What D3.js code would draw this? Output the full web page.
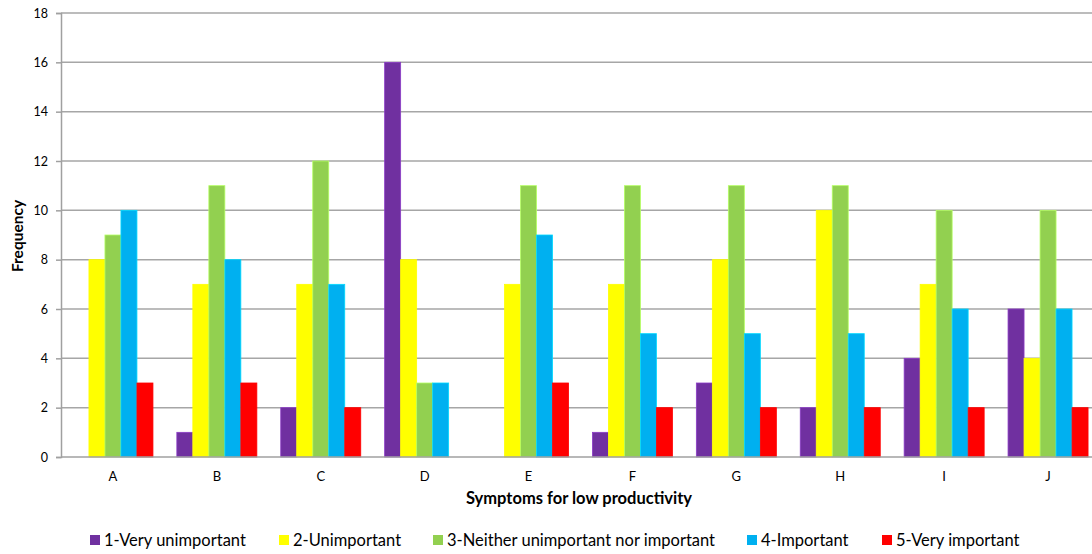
<!DOCTYPE html>
<html>
<head>
<meta charset="utf-8">
<script src="https://cdn.jsdelivr.net/npm/d3@7"></script>
<style>
  html, body { margin: 0; padding: 0; background: #fff; overflow: hidden; }
  svg { display: block; font-family: Lato, "Open Sans", sans-serif; }
</style>
</head>
<body>
<svg id="chart" width="1092" height="554"></svg>
<script>
// Symptoms rated by importance
const categories = ["A", "B", "C", "D", "E", "F", "G", "H", "I", "J"];
const seriesNames = [
  "1-Very unimportant",
  "2-Unimportant",
  "3-Neither unimportant nor important",
  "4-Important",
  "5-Very important"
];
const veryUnimportant = [0, 1, 2, 16, 0, 1, 3, 2, 4, 6];
const unimportant     = [8, 7, 7, 8, 7, 7, 8, 10, 7, 4];
const neither         = [9, 11, 12, 3, 11, 11, 11, 11, 10, 10];
const important       = [10, 8, 7, 3, 9, 5, 5, 5, 6, 6];
const veryImportant   = [3, 3, 2, 0, 3, 2, 2, 2, 2, 2];
const yTicks = [0, 2, 4, 6, 8, 10, 12, 14, 16, 18];

const seriesValues = [veryUnimportant, unimportant, neither, important, veryImportant];
const colors = ["#7030A0", "#FFFF00", "#92D050", "#00B0F0", "#FF0000"];

const svg = d3.select("#chart");
const plotLeft = 61, plotRight = 1100, plotTop = 13, plotBottom = 457;

const x = d3.scaleBand().domain(categories).range([plotLeft, plotRight]).paddingInner(0.23).paddingOuter(0.115);
const xs = d3.scaleBand().domain(d3.range(seriesNames.length)).range([0, x.bandwidth()]);
const y = d3.scaleLinear().domain([0, 18]).range([plotBottom, plotTop]);

// horizontal gridlines
svg.append("g")
  .selectAll("line")
  .data(yTicks.filter(d => d > 0))
  .join("line")
  .attr("x1", plotLeft).attr("x2", 1092)
  .attr("y1", d => y(d)).attr("y2", d => y(d))
  .attr("stroke", "#a6a6a6").attr("stroke-width", 1.5);

// y axis
const yAxis = svg.append("g")
  .attr("transform", `translate(${plotLeft},0)`)
  .call(d3.axisLeft(y).tickValues(yTicks).tickSize(5).tickPadding(8));
yAxis.select(".domain").attr("stroke", "#a0a0a0").attr("stroke-width", 1.5);
yAxis.selectAll(".tick line").attr("stroke", "#a0a0a0").attr("stroke-width", 1.5);
yAxis.selectAll("text").attr("font-size", 12.5).attr("fill", "#000")
  .attr("font-family", "Lato, sans-serif");

// bars
const rows = categories.map((c, i) => ({ c, vals: seriesValues.map(s => s[i]) }));
const groups = svg.append("g").selectAll("g")
  .data(rows).join("g")
  .attr("transform", d => `translate(${x(d.c)},0)`);
groups.selectAll("rect")
  .data(d => d.vals.map((v, k) => ({ v, k })))
  .join("rect")
  .attr("x", d => xs(d.k))
  .attr("width", xs.bandwidth())
  .attr("y", d => y(d.v))
  .attr("height", d => y(0) - y(d.v))
  .attr("fill", d => colors[d.k])
  .attr("stroke", d => d3.color(colors[d.k]).brighter(0.6))
  .attr("stroke-width", d => d.v > 0 ? 0.8 : 0);

// x axis baseline
svg.append("line")
  .attr("x1", plotLeft).attr("x2", 1092)
  .attr("y1", plotBottom).attr("y2", plotBottom)
  .attr("stroke", "#a0a0a0").attr("stroke-width", 1.5);

// category labels
svg.append("g").selectAll("text")
  .data(categories).join("text")
  .attr("x", d => x(d) + x.bandwidth() / 2)
  .attr("y", 481)
  .attr("text-anchor", "middle")
  .attr("font-size", 13)
  .text(d => d);

// axis titles
svg.append("text")
  .attr("x", 579).attr("y", 504)
  .attr("text-anchor", "middle")
  .attr("font-size", 16.5).attr("font-weight", "bold")
  .text("Symptoms for low productivity");

svg.append("text")
  .attr("transform", "translate(23,236) rotate(-90)")
  .attr("text-anchor", "middle")
  .attr("font-size", 15.5).attr("font-weight", "bold")
  .text("Frequency");

// legend
const legendX = [90, 279, 433, 747, 882];
const legend = svg.append("g").selectAll("g")
  .data(seriesNames).join("g")
  .attr("transform", (d, i) => `translate(${legendX[i]},540)`);
legend.append("rect")
  .attr("x", 0).attr("y", -5).attr("width", 10).attr("height", 10)
  .attr("fill", (d, i) => colors[i]);
legend.append("text")
  .attr("x", 14).attr("y", 5.5)
  .attr("font-size", 16.5)
  .text(d => d);
</script>
</body>
</html>
